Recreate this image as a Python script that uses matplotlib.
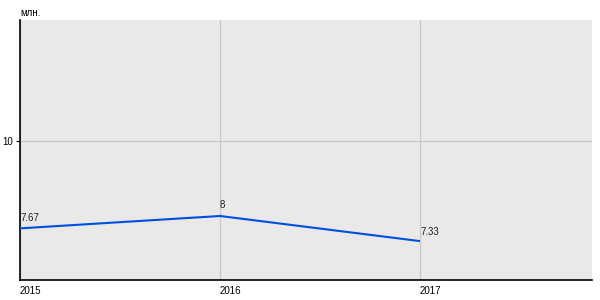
#line chart of yearly values, millions
import matplotlib
matplotlib.use('Agg')
import matplotlib.pyplot as plt

years = [2015, 2016, 2017]
values = [7.67, 8, 7.33]
labels = ['7.67', '8', '7.33']
yticks = [10]

plt.rcParams['font.family'] = ['Liberation Sans', 'DejaVu Sans']

fig = plt.figure(figsize=(6, 3), dpi=100)
ax = fig.add_axes([20/600, 20/300, 572/600, 260/300])
ax.set_facecolor('#e9e9e9')

ax.plot(years, values, color='#0050e0', lw=1.5, solid_capstyle='butt', zorder=3)

ax.set_xlim(2015, 2017.86)
ax.set_ylim(6.293, 13.227)
ax.set_xticks(years)
ax.set_yticks(yticks)
ax.set_xticklabels([str(y) for y in years], ha='left', fontsize=7)
ax.set_yticklabels([str(t) for t in yticks], fontsize=7, va='center_baseline')
ax.tick_params(axis='x', length=0, pad=4)
ax.tick_params(axis='y', length=3, width=0.8, pad=2)
ax.grid(True, color='#c8c8c8', lw=0.9)
ax.set_axisbelow(True)

for s in ['top', 'right']:
    ax.spines[s].set_visible(False)
for s in ['left', 'bottom']:
    ax.spines[s].set_linewidth(1.2)
    ax.spines[s].set_color('black')

#value labels
offs = [(0, 4, 'left'), (0, 4, 'left'), (0, 3, 'left')]
for x, y, t, (dx, dy, ha) in zip(years, values, labels, offs):
    ax.annotate(t, (x, y), xytext=(dx, dy), textcoords='offset points',
                ha=ha, va='bottom', fontsize=7, color='#222222')

fig.text(20/600, 1 - 12.5/300, 'млн.', fontsize=7, ha='left', va='center')

fig.savefig('out.png', dpi=100)
